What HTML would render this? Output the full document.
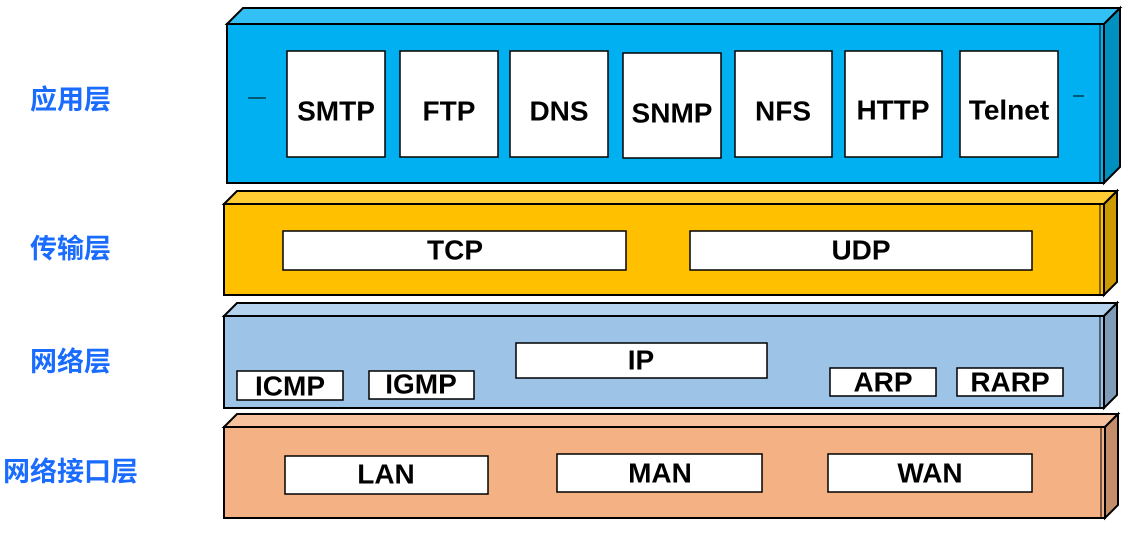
<!DOCTYPE html>
<html><head><meta charset="utf-8"><style>
html,body{margin:0;padding:0;background:#fff;}
svg text{font-family:"Liberation Sans","DejaVu Sans",sans-serif;font-weight:bold;}
.cn{font-family:"Liberation Sans","Noto Sans CJK SC",sans-serif;font-weight:bold;fill:#1a6cff;font-size:27px;}
.t{font-size:28px;fill:#000;text-anchor:middle;dominant-baseline:central;}
</style></head><body>
<svg width="1143" height="529" viewBox="0 0 1143 529" xmlns="http://www.w3.org/2000/svg">
<g stroke="#000" stroke-width="2">
<polygon points="227,24 243,8 1120,8 1104,24" fill="#33c0f5"/>
<polygon points="1104,24 1120,8 1120,167 1104,183" fill="#0090c0"/>
<rect x="227" y="24" width="877" height="159" fill="#00b0f0"/>
<line x1="1100" y1="24" x2="1100" y2="183" stroke-width="1"/>
<polygon points="224,204 237,191 1117,191 1104,204" fill="#ffcc33"/>
<polygon points="1104,204 1117,191 1117,282 1104,295" fill="#cc9a00"/>
<rect x="224" y="204" width="880" height="91" fill="#ffc000"/>
<line x1="1100" y1="204" x2="1100" y2="295" stroke-width="1"/>
<polygon points="224,316 237,303 1117,303 1104,316" fill="#b4d2ee"/>
<polygon points="1104,316 1117,303 1117,395 1104,408" fill="#7e9cb8"/>
<rect x="224" y="316" width="880" height="92" fill="#9dc3e6"/>
<line x1="1100" y1="316" x2="1100" y2="408" stroke-width="1"/>
<polygon points="224,427 237,414 1118,414 1105,427" fill="#f6c19c"/>
<polygon points="1105,427 1118,414 1118,505 1105,518" fill="#c38e69"/>
<rect x="224" y="427" width="881" height="91" fill="#f4b183"/>
<line x1="1101" y1="427" x2="1101" y2="518" stroke-width="1"/>
</g>
<g stroke="#000" stroke-width="1.5" fill="#fff">
<rect x="287" y="51" width="98" height="106"/>
<rect x="400" y="51" width="98" height="106"/>
<rect x="510" y="51" width="98" height="106"/>
<rect x="623" y="53" width="98" height="105"/>
<rect x="735" y="51" width="97" height="106"/>
<rect x="845" y="51" width="97" height="106"/>
<rect x="960" y="51" width="98" height="106"/>
<rect x="283" y="231" width="343" height="39"/>
<rect x="690" y="231" width="342" height="39"/>
<rect x="516" y="343" width="251" height="35"/>
<rect x="237" y="371" width="106" height="29"/>
<rect x="369" y="371" width="105" height="28"/>
<rect x="830" y="368" width="106" height="28"/>
<rect x="957" y="368" width="106" height="28"/>
<rect x="285" y="456" width="203" height="38"/>
<rect x="557" y="454" width="205" height="38"/>
<rect x="828" y="454" width="204" height="38"/>
</g>
<line x1="248" y1="98" x2="266" y2="98" stroke="#000" stroke-width="1"/>
<line x1="1073" y1="96" x2="1084" y2="96" stroke="#000" stroke-width="1"/>
<text class="t" x="336" y="111">SMTP</text>
<text class="t" x="449" y="111">FTP</text>
<text class="t" x="559" y="111">DNS</text>
<text class="t" x="672" y="113">SNMP</text>
<text class="t" x="783" y="111">NFS</text>
<text class="t" x="893" y="110">HTTP</text>
<text class="t" x="1009" y="110">Telnet</text>
<text class="t" x="455" y="250">TCP</text>
<text class="t" x="861" y="250">UDP</text>
<text class="t" x="641" y="360">IP</text>
<text class="t" x="290" y="386">ICMP</text>
<text class="t" x="421" y="384">IGMP</text>
<text class="t" x="883" y="382">ARP</text>
<text class="t" x="1010" y="382">RARP</text>
<text class="t" x="386" y="474">LAN</text>
<text class="t" x="660" y="473">MAN</text>
<text class="t" x="930" y="473">WAN</text>
<text class="cn" x="30" y="109">应用层</text>
<text class="cn" x="30" y="258">传输层</text>
<text class="cn" x="30" y="371">网络层</text>
<text class="cn" x="3" y="481">网络接口层</text>
</svg>
</body></html>
